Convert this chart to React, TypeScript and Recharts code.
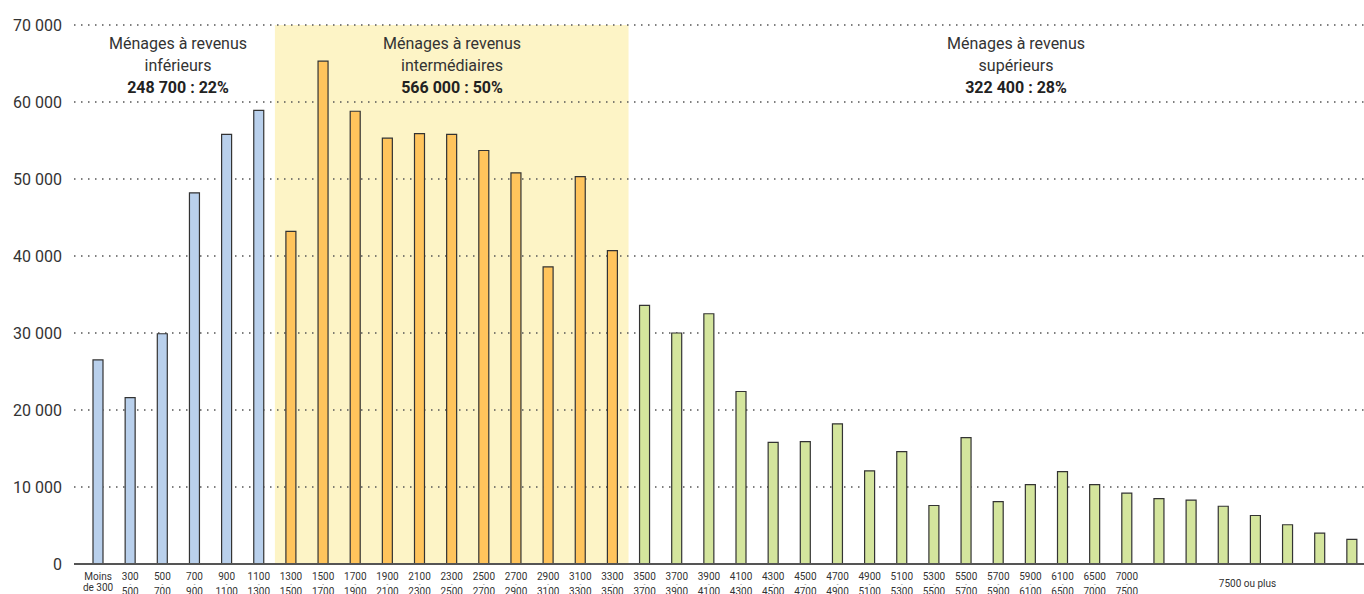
import { BarChart, Bar, XAxis, YAxis, CartesianGrid, ReferenceArea, Cell } from 'recharts';

// tranches de revenus (une barre par tranche, "7500 ou plus" est découpé en 7 barres)
const categories = [
  'Moins de 300', '300-500', '500-700', '700-900', '900-1100', '1100-1300',
  '1300-1500', '1500-1700', '1700-1900', '1900-2100', '2100-2300', '2300-2500',
  '2500-2700', '2700-2900', '2900-3100', '3100-3300', '3300-3500',
  '3500-3700', '3700-3900', '3900-4100', '4100-4300', '4300-4500', '4500-4700',
  '4700-4900', '4900-5100', '5100-5300', '5300-5500', '5500-5700', '5700-5900',
  '5900-6100', '6100-6500', '6500-7000', '7000-7500',
  '7500 ou plus', '7500 ou plus', '7500 ou plus', '7500 ou plus',
  '7500 ou plus', '7500 ou plus', '7500 ou plus',
];

const households = [
  26500, 21600, 29900, 48200, 55800, 58900,
  43200, 65300, 58800, 55300, 55900, 55800, 53700, 50800, 38600, 50300, 40700,
  33600, 30000, 32500, 22400, 15800, 15900, 18200, 12100, 14600, 7600, 16400,
  8100, 10300, 12000, 10300, 9200,
  8500, 8300, 7500, 6300, 5100, 4000, 3200,
];

const groupNames = ['inférieurs', 'intermédiaires', 'supérieurs'];
const groupTotals = ['248 700 : 22%', '566 000 : 50%', '322 400 : 28%'];
const groupSizes = [6, 11, 23];

const yTicks = [0, 10000, 20000, 30000, 40000, 50000, 60000, 70000];

const groupColors = ['#b9d0ec', '#ffc45c', '#d4e59d'];
const groupLabelX = [178, 452, 1016];

const data = categories.map((c, i) => ({ idx: i, name: c, value: households[i] }));

function groupOf(i: number) {
  let acc = 0;
  for (let g = 0; g < groupSizes.length; g++) {
    acc += groupSizes[g];
    if (i < acc) return g;
  }
  return groupSizes.length - 1;
}

const fmt = (v: number) => String(v).replace(/\B(?=(\d{3})+(?!\d))/g, ' ');

const CategoryTick = ({ x, y, payload }: any) => {
  const i = payload.value as number;
  const label = categories[i];
  const first = categories.indexOf(label);
  const last = categories.lastIndexOf(label);
  const style = { fontFamily: 'Roboto', fontSize: 10, fill: '#333' };

  if (first !== last) {
    if (i !== Math.floor((first + last) / 2)) return null;
    return (
      <text x={x - 8} y={y + 23} textAnchor="middle" {...style}>
        {label}
      </text>
    );
  }
  if (label.startsWith('Moins')) {
    return (
      <g>
        <text x={x} y={y + 15.5} textAnchor="middle" {...style}>Moins</text>
        <text x={x} y={y + 26.5} textAnchor="middle" {...style}>de 300</text>
      </g>
    );
  }
  const [lo, hi] = label.split('-');
  return (
    <g>
      <text x={x} y={y + 15.5} textAnchor="middle" {...style}>{lo}</text>
      <text x={x} y={y + 22} textAnchor="middle" {...style} fontSize={6}>-</text>
      <text x={x} y={y + 31} textAnchor="middle" {...style}>{hi}</text>
    </g>
  );
};

const RA: any = ReferenceArea;
const CG: any = CartesianGrid;

export default function App() {
  const midStart = groupSizes[0];
  const midEnd = groupSizes[0] + groupSizes[1] - 1;

  return (
    <div style={{ position: 'absolute', left: 0, top: 0, width: 1364, height: 594, overflow: 'hidden', background: '#fff' }}>
      <BarChart
        width={1368}
        height={594}
        data={data}
        margin={{ top: 25, right: 0, bottom: 0, left: 0 }}
        barSize={10}
      >
        <RA
          x1={midStart}
          x2={midEnd}
          y1={0}
          y2={70000}
          fill="#fdf4c6"
          fillOpacity={1}
          stroke="none"
          zIndex={-500}
        />
        <CG
          vertical={false}
          stroke="#555"
          strokeDasharray="1.5 5.5"
          strokeWidth={1.3}
          zIndex={-400}
        />
        <XAxis
          dataKey="idx"
          type="category"
          interval={0}
          height={30}
          padding={{ left: 8, right: 0 }}
          tickLine={false}
          tickSize={0}
          tickMargin={0}
          axisLine={{ stroke: '#555', strokeWidth: 2 }}
          tick={<CategoryTick />}
        />
        <YAxis
          width={74}
          domain={[0, 70000]}
          ticks={yTicks}
          tickFormatter={fmt}
          axisLine={false}
          tickLine={false}
          tickMargin={6}
          tick={{ fontFamily: 'Roboto', fontSize: 16, fill: '#333' }}
        />
        <Bar dataKey="value" stroke="#333" strokeWidth={1.2} isAnimationActive={false}>
          {data.map((d) => (
            <Cell key={d.idx} fill={groupColors[groupOf(d.idx)]} />
          ))}
        </Bar>
        <g fontFamily="Roboto" fontSize={16} fill="#333" textAnchor="middle">
          {groupNames.map((g, i) => (
            <g key={g}>
              <text x={groupLabelX[i]} y={49}>Ménages à revenus</text>
              <text x={groupLabelX[i]} y={71}>{g}</text>
              <text x={groupLabelX[i]} y={93} fontWeight={700} fill="#222">
                {groupTotals[i]}
              </text>
            </g>
          ))}
        </g>
      </BarChart>
    </div>
  );
}
